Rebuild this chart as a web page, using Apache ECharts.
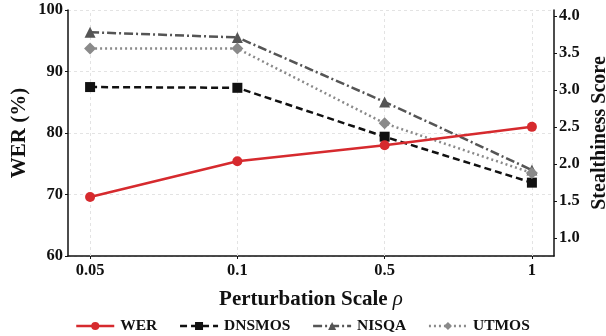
<!DOCTYPE html>
<html><head><meta charset="utf-8">
<script src="https://cdn.jsdelivr.net/npm/echarts@6/dist/echarts.min.js"></script>
<style>html,body{margin:0;padding:0;background:#fff}#c{width:606px;height:336px}</style>
</head><body><div id="c"></div>
<script>
const categories = ['0.05', '0.1', '0.5', '1'];
const werValues = [69.6, 75.4, 78.0, 81.0];
const dnsmosValues = [3.04, 3.03, 2.37, 1.75];
const nisqaValues = [3.78, 3.71, 2.84, 1.92];
const utmosValues = [3.56, 3.56, 2.55, 1.88];
const leftTicks = [60, 70, 80, 90, 100];
const rightTicks = [1.0, 1.5, 2.0, 2.5, 3.0, 3.5, 4.0];

const FONT = 'Liberation Serif';
const idx = categories.map((_, i) => i);
const pts = arr => arr.map((v, i) => [i, v]);

const chart = echarts.init(document.getElementById('c'), null, {renderer: 'canvas'});
chart.setOption({
  animation: false,
  textStyle: {fontFamily: FONT},
  grid: {left: 68, right: 52, top: 10, bottom: 80, containLabel: false, outerBoundsMode: 'none'},
  legend: {
    top: 313, left: 70,
    itemWidth: 38, itemHeight: 10, itemGap: 21.5,
    lineStyle: {width: 2.5},
    textStyle: {fontFamily: FONT, fontWeight: 'bold', fontSize: 15.5, color: '#111', padding: [0, 0, 0, 1]},
    data: ['WER', 'DNSMOS', 'NISQA', 'UTMOS']
  },
  xAxis: {
    type: 'value', min: -0.15, max: 3.15,
    name: '{a|Perturbation Scale }{b|ρ}',
    nameLocation: 'middle', nameGap: 33,
    nameTextStyle: {
      rich: {
        a: {fontFamily: FONT, fontWeight: 'bold', fontSize: 21, color: '#111'},
        b: {fontFamily: FONT, fontStyle: 'italic', fontSize: 21, color: '#111'}
      }
    },
    axisLine: {onZero: false, lineStyle: {color: '#111', width: 1.5}},
    axisTick: {show: true, length: 3, inside: false, customValues: idx, lineStyle: {color: '#111'}},
    axisLabel: {customValues: idx, formatter: v => categories[Math.round(v)], fontFamily: FONT, fontWeight: 'bold', fontSize: 16.5, color: '#111', margin: 6},
    splitLine: {show: false}
  },
  yAxis: [{
    type: 'value', min: 60, max: 100, interval: 10,
    position: 'left',
    name: 'WER (%)', nameLocation: 'middle', nameGap: 38, nameMoveOverlap: false,
    nameTextStyle: {fontFamily: FONT, fontWeight: 'bold', fontSize: 21, color: '#111'},
    axisLine: {show: true, onZero: false, lineStyle: {color: '#111', width: 1.5}},
    axisTick: {show: true, length: 3, lineStyle: {color: '#111'}},
    axisLabel: {fontFamily: FONT, fontWeight: 'bold', fontSize: 16.5, color: '#111', margin: 5},
    splitLine: {show: true, lineStyle: {color: '#e3e3e3', type: [3, 3], width: 1}}
  }, {
    type: 'value', min: 0.76, max: 4.08,
    position: 'right',
    name: 'Stealthiness Score', nameLocation: 'middle', nameGap: 36, nameRotate: 90, nameMoveOverlap: false,
    nameTextStyle: {fontFamily: FONT, fontWeight: 'bold', fontSize: 20, color: '#111'},
    axisLine: {show: true, onZero: false, lineStyle: {color: '#111', width: 1.5}},
    axisTick: {show: true, length: 3, customValues: rightTicks, lineStyle: {color: '#111'}},
    axisLabel: {customValues: rightTicks, formatter: v => v.toFixed(1), fontFamily: FONT, fontWeight: 'bold', fontSize: 16.5, color: '#111', margin: 5},
    splitLine: {show: false}
  }],
  series: [{
    name: 'WER', type: 'line', yAxisIndex: 0, data: pts(werValues),
    symbol: 'circle', symbolSize: 10,
    lineStyle: {color: '#d62a2e', width: 2.5},
    itemStyle: {color: '#d62a2e'},
    z: 5,
    markLine: {
      silent: true, symbol: 'none', label: {show: false}, z: 1,
      lineStyle: {color: '#e3e3e3', type: [3, 3], width: 1},
      data: idx.map(i => ({xAxis: i}))
    }
  }, {
    name: 'DNSMOS', type: 'line', yAxisIndex: 1, data: pts(dnsmosValues),
    symbol: 'rect', symbolSize: 10,
    lineStyle: {color: '#111', width: 2.5, type: [7, 4]},
    itemStyle: {color: '#111'}, z: 3
  }, {
    name: 'NISQA', type: 'line', yAxisIndex: 1, data: pts(nisqaValues),
    symbol: 'triangle', symbolSize: 11,
    lineStyle: {color: '#555', width: 2.5, type: [9, 3, 2, 3]},
    itemStyle: {color: '#555'}, z: 3
  }, {
    name: 'UTMOS', type: 'line', yAxisIndex: 1, data: pts(utmosValues),
    symbol: 'diamond', symbolSize: 12,
    lineStyle: {color: '#8a8a8a', width: 2.5, type: [2, 3]},
    itemStyle: {color: '#8a8a8a'}, z: 3
  }]
});
</script></body></html>
